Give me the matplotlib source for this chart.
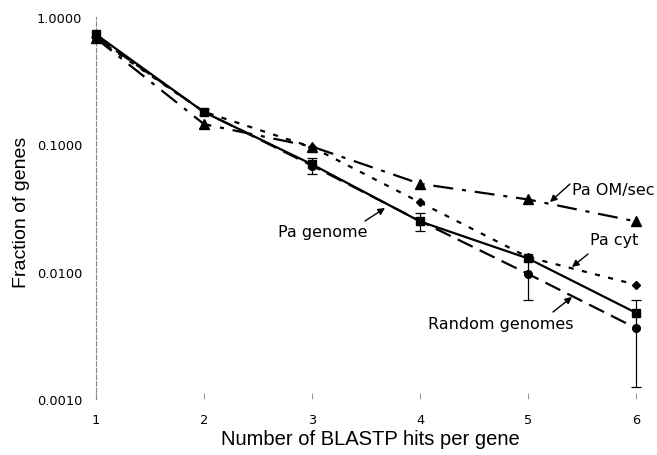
import matplotlib.pyplot as plt

hits = [1, 2, 3, 4, 5, 6]

pa_genome = [0.73, 0.179, 0.0696, 0.0248, 0.0127, 0.00475]
random_genomes = [0.70, 0.18, 0.068, 0.025, 0.0096, 0.0036]
random_err = [0.0, 0.01, 0.01, 0.004, 0.0036, 0.00235]
pa_cyt = [0.68, 0.18, 0.095, 0.035, 0.013, 0.0079]
pa_om_sec = [0.68, 0.144, 0.096, 0.049, 0.0369, 0.0248]

yticks = [0.001, 0.01, 0.1, 1.0]

fig = plt.figure(figsize=(6.57, 4.56), dpi=100)
ax = fig.add_axes([96 / 657, 56 / 456, 561 / 657, 382 / 456])

# random genomes with error bars
ax.errorbar(hits, random_genomes, yerr=random_err, color='black', lw=1.6,
            dashes=(7.5, 3.5), marker='o', ms=5.5, elinewidth=0.9, capsize=3.5,
            capthick=0.9, clip_on=False, zorder=3)
ax.plot(hits, pa_cyt, color='black', lw=1.6, dashes=(2.3, 3.8), marker='D',
        ms=4.5, clip_on=False, zorder=3)
ax.plot(hits, pa_om_sec, color='black', lw=1.6, dashes=(9, 4, 1.8, 4),
        marker='^', ms=6.5, clip_on=False, zorder=3)
ax.plot(hits, pa_genome, color='black', lw=1.6, marker='s', ms=5.5,
        clip_on=False, zorder=4)

ax.set_yscale('log')
ax.set_ylim(0.001, 1.0)
ax.set_xlim(1, 6.194)
ax.set_yticks(yticks)
ax.set_yticklabels(['%.4f' % v for v in yticks])
ax.minorticks_off()
ax.set_xticks(hits)

for s in ['top', 'right', 'bottom']:
    ax.spines[s].set_visible(False)
ax.spines['left'].set_color('#888888')
ax.spines['left'].set_linestyle((0, (4, 2)))
ax.spines['left'].set_linewidth(0.8)

ax.tick_params(axis='y', length=0, pad=10, labelsize=9.3)
ax.tick_params(axis='x', direction='in', length=4, color='#999999',
               pad=10, labelsize=9.3)
for lab in ax.get_xticklabels() + ax.get_yticklabels():
    lab.set_family('DejaVu Sans')

fig.text(370 / 657, 1 - 440 / 456, 'Number of BLASTP hits per gene',
         family='Liberation Sans', fontsize=14.5, ha='center', va='center')
fig.text(22 / 657, 1 - 212 / 456, 'Fraction of genes',
         family='Liberation Sans', fontsize=14, ha='center', va='center',
         rotation=90)

arrow = dict(arrowstyle='-|>', color='black', lw=1, mutation_scale=10,
             shrinkA=0, shrinkB=0)


def px(x, y):
    return (x, 456 - y)


def label(txt, x, y):
    fig.text(x / 657, 1 - y / 456, txt, fontsize=11.5, family='DejaVu Sans',
             ha='left', va='center')


def pointer(x0, y0, x1, y1):
    ax.annotate('', xy=px(x1, y1), xytext=px(x0, y0),
                xycoords='figure pixels', textcoords='figure pixels',
                arrowprops=arrow)


label('Pa OM/sec', 572, 190)
label('Pa genome', 278, 233)
label('Pa cyt', 590, 241)
label('Random genomes', 428, 325)
pointer(570, 185, 550, 203)
pointer(365, 222, 385, 209)
pointer(588, 255, 572, 268)
pointer(553, 313, 572, 298)

plt.savefig('out.png', dpi=100)
